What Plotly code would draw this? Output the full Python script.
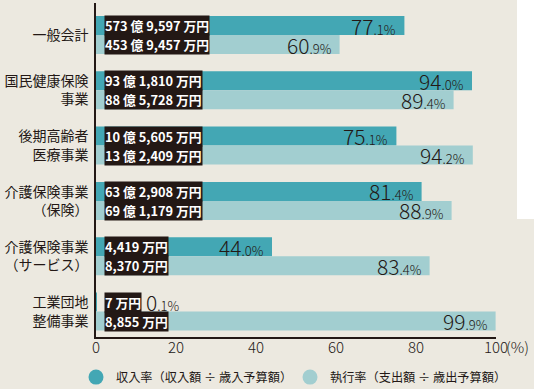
import plotly.graph_objects as go

categories = ["一般会計", "国民健康保険<br>事業", "後期高齢者<br>医療事業",
              "介護保険事業<br>（保険）", "介護保険事業<br>（サービス）", "工業団地<br>整備事業"]
revenue_rate = [77.1, 94.0, 75.1, 81.4, 44.0, 0.1]
exec_rate = [60.9, 89.4, 94.2, 88.9, 83.4, 99.9]
revenue_amount = ["573 億 9,597 万円", "93 億 1,810 万円", "10 億 5,605 万円",
                  "63 億 2,908 万円", "4,419 万円", "7 万円"]
expend_amount = ["453 億 9,457 万円", "88 億 5,728 万円", "13 億 2,409 万円",
                 "69 億 1,179 万円", "8,370 万円", "8,855 万円"]
x_ticks = [0, 20, 40, 60, 80, 100]
legend_names = ["収入率（収入額 ÷ 歳入予算額）", "執行率（支出額 ÷ 歳出予算額）"]

TEAL = "#43A7B4"
LIGHT = "#A2CED0"
BG = "#ECE9E0"
DARK = "#231815"
FONT = "Noto Sans CJK JP"

idx = list(range(len(categories)))

fig = go.Figure()
fig.add_trace(go.Bar(y=idx, x=revenue_rate, orientation="h", marker_color=TEAL,
                     marker_line_width=0, showlegend=False, hoverinfo="skip"))
fig.add_trace(go.Bar(y=idx, x=exec_rate, orientation="h", marker_color=LIGHT,
                     marker_line_width=0, showlegend=False, hoverinfo="skip"))
# legend entries (circles)
for name, col in zip(legend_names, [TEAL, LIGHT]):
    fig.add_trace(go.Scatter(x=[None], y=[None], mode="markers", name=name,
                             marker=dict(color=col, size=15, symbol="circle")))


def pct_text(v):
    ip, dp = f"{v:.1f}".split(".")
    return f"{ip}<span style='font-size:13px'>.{dp}%</span>"


ann = []
for i in idx:
    for amt, val, shift in ((revenue_amount[i], revenue_rate[i], 9.5),
                            (expend_amount[i], exec_rate[i], -9.5)):
        ann.append(dict(x=1, y=i, xref="x", yref="y", xanchor="left", yanchor="middle",
                        xshift=4, yshift=shift, text=amt, showarrow=False, bgcolor=DARK,
                        borderpad=0,
                        font=dict(family=FONT, size=12.8, color="white", weight=700)))
        if val >= 10:
            ann.append(dict(x=val, y=i, xref="x", yref="y", xanchor="right",
                            yanchor="middle", xshift=-6, yshift=shift, text=pct_text(val),
                            showarrow=False,
                            font=dict(family=FONT, size=21, color=DARK, weight=300)))
        else:
            ann.append(dict(x=val, y=i, xref="x", yref="y", xanchor="left",
                            yanchor="middle", xshift=48, yshift=shift, text=pct_text(val),
                            showarrow=False,
                            font=dict(family=FONT, size=21, color=DARK, weight=300)))

ann.append(dict(x=100, y=0, xref="x", yref="paper", xanchor="left", yanchor="top",
                xshift=8, yshift=3, text="(%)", showarrow=False,
                font=dict(family=FONT, size=15, color=DARK, weight=300)))

fig.update_layout(
    width=534, height=389,
    margin=dict(l=96, r=38, t=3, b=52, autoexpand=False),
    paper_bgcolor=BG, plot_bgcolor=BG,
    barmode="group", bargap=0.313, bargroupgap=0,
    xaxis=dict(range=[0, 100], tickvals=x_ticks, ticktext=[str(t) for t in x_ticks],
               showgrid=False, zeroline=False, showline=True, linecolor=DARK,
               linewidth=1.5, ticks="", automargin=False, ticklabelstandoff=-4,
               tickfont=dict(family=FONT, size=15, color=DARK, weight=300)),
    yaxis=dict(range=[5.461, -0.579], tickvals=idx, ticktext=categories,
               showgrid=False, zeroline=False, showline=True, linecolor=DARK,
               linewidth=1.5, ticks="", automargin=False, ticklabelstandoff=3,
               tickfont=dict(family=FONT, size=14, color=DARK)),
    legend=dict(orientation="h", x=-0.05, y=-0.12, xanchor="left", yanchor="middle",
                bgcolor="rgba(0,0,0,0)", entrywidth=169, entrywidthmode="pixels",
                font=dict(family=FONT, size=12.2, color=DARK)),
    annotations=ann,
    shapes=[dict(type="rect", xref="paper", yref="paper",
                 x0=(517 - 96) / 400, x1=(534 - 96) / 400 + 0.01,
                 y0=(337 - 219) / 334, y1=(337 + 1) / 334,
                 fillcolor="white", line_width=0, layer="below")],
)

fig.write_html("out.html", config={"displayModeBar": False},
               post_script="document.body.style.margin='0';document.body.style.padding='0';")
